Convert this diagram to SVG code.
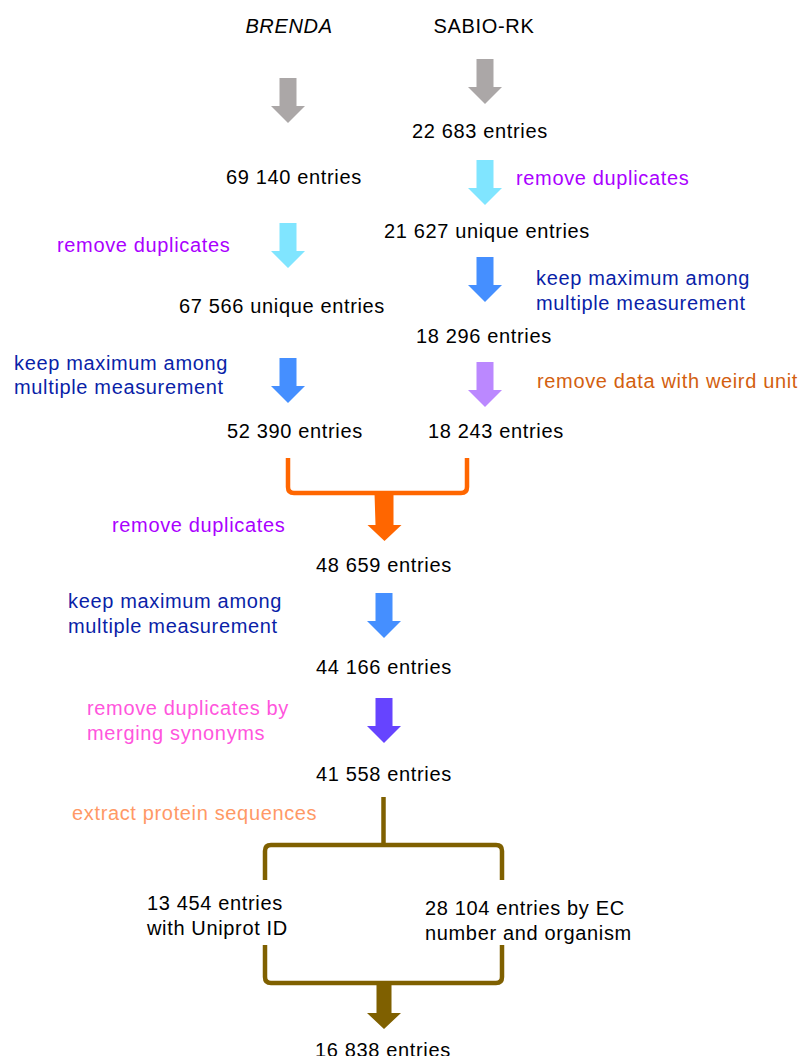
<svg xmlns="http://www.w3.org/2000/svg" width="800" height="1056" viewBox="0 0 800 1056">
<style>
text{font-family:"Liberation Sans",Arial,Helvetica,sans-serif;font-size:20px;letter-spacing:0.65px;fill:#000}
.it{font-style:italic}
.purple{fill:#aa00ff}
.navy{fill:#0a1fa8}
.rust{fill:#d35f10}
.pink{fill:#ff55dd}
.peach{fill:#ff9966}
.gray{fill:#aba7a7}
.cyan{fill:#80e5ff}
.blue{fill:#458fff}
.lav{fill:#bb88ff}
.violet{fill:#6644ff}
.orange{fill:#ff6600}
.brown{fill:#7f6000}
.bro{fill:none;stroke:#ff6600;stroke-width:4.5}
.brb{fill:none;stroke:#7f6000;stroke-width:4.5}
</style>
<rect width="800" height="1056" fill="#fff"/>
<g id="connectors">
  <path id="a-brenda-gray" class="gray" d="M279.5,78h17v28h8.5l-17,17l-17,-17h8.5z"/>
  <path id="a-sabio-gray" class="gray" d="M476.5,59h17v28h8.5l-17,17l-17,-17h8.5z"/>
  <path id="a-sabio-cyan" class="cyan" d="M476.5,160h17v28h8.5l-17,17l-17,-17h8.5z"/>
  <path id="a-brenda-cyan" class="cyan" d="M279.5,223h17v28h8.5l-17,17l-17,-17h8.5z"/>
  <path id="a-sabio-blue" class="blue" d="M476.5,257h17v28h8.5l-17,17l-17,-17h8.5z"/>
  <path id="a-brenda-blue" class="blue" d="M279.5,358h17v28h8.5l-17,17l-17,-17h8.5z"/>
  <path id="a-sabio-lav" class="lav" d="M476.5,362h17v28h8.5l-17,17l-17,-17h8.5z"/>
  <path id="merge-bracket" class="bro" d="M288,458V487Q288,493 294,493H461Q467,493 467,487V458"/>
  <path id="a-merge" class="orange" d="M374.5,493h19v32h8l-17,16l-17,-16h8z"/>
  <path id="a-center-blue" class="blue" d="M375.5,593h17v28h8.5l-17,17l-17,-17h8.5z"/>
  <path id="a-violet" class="violet" d="M375.5,698h17v28h8.5l-17,17l-17,-17h8.5z"/>
  <path id="split-stem" class="brb" d="M383.5,797V845"/>
  <path id="split-bracket" class="brb" d="M265,880V851Q265,845 271,845H496Q502,845 502,851V880"/>
  <path id="join-bracket" class="brb" d="M265,945V977Q265,983 271,983H496Q502,983 502,977V945"/>
  <path id="a-final" class="brown" d="M376.5,981h15v32h9.5l-17,16l-17,-16h9.5z"/>
</g>
<g id="n-brenda"><text class="it" x="289" y="33" text-anchor="middle">BRENDA</text></g>
<g id="n-sabio"><text x="484" y="33" text-anchor="middle">SABIO-RK</text></g>
<g id="n-s22683"><text x="412" y="138">22 683 entries</text></g>
<g id="n-b69140"><text x="226" y="184">69 140 entries</text></g>
<g id="l-s-dup"><text class="purple" x="516" y="185">remove duplicates</text></g>
<g id="n-s21627"><text x="384" y="238">21 627 unique entries</text></g>
<g id="l-b-dup"><text class="purple" x="57" y="252">remove duplicates</text></g>
<g id="n-b67566"><text x="179" y="313">67 566 unique entries</text></g>
<g id="l-s-max"><text class="navy" x="536" y="285">keep maximum among</text><text class="navy" x="536" y="310">multiple measurement</text></g>
<g id="n-s18296"><text x="416" y="343">18 296 entries</text></g>
<g id="l-b-max"><text class="navy" x="14" y="370">keep maximum among</text><text class="navy" x="14" y="394">multiple measurement</text></g>
<g id="l-s-unit"><text class="rust" x="537" y="388">remove data with weird unit</text></g>
<g id="n-b52390"><text x="227" y="438">52 390 entries</text></g>
<g id="n-s18243"><text x="428" y="438">18 243 entries</text></g>
<g id="l-m-dup"><text class="purple" x="112" y="532">remove duplicates</text></g>
<g id="n-48659"><text x="316" y="572">48 659 entries</text></g>
<g id="l-m-max"><text class="navy" x="68" y="608">keep maximum among</text><text class="navy" x="68" y="633">multiple measurement</text></g>
<g id="n-44166"><text x="316" y="674">44 166 entries</text></g>
<g id="l-syn"><text class="pink" x="87" y="715">remove duplicates by</text><text class="pink" x="87" y="740">merging synonyms</text></g>
<g id="n-41558"><text x="316" y="781">41 558 entries</text></g>
<g id="l-extract"><text class="peach" x="72" y="820">extract protein sequences</text></g>
<g id="n-13454"><text x="147" y="910">13 454 entries</text><text x="147" y="935">with Uniprot ID</text></g>
<g id="n-28104"><text x="425" y="915">28 104 entries by EC</text><text x="425" y="940">number and organism</text></g>
<g id="n-16838"><text x="315" y="1057">16 838 entries</text></g>
</svg>
